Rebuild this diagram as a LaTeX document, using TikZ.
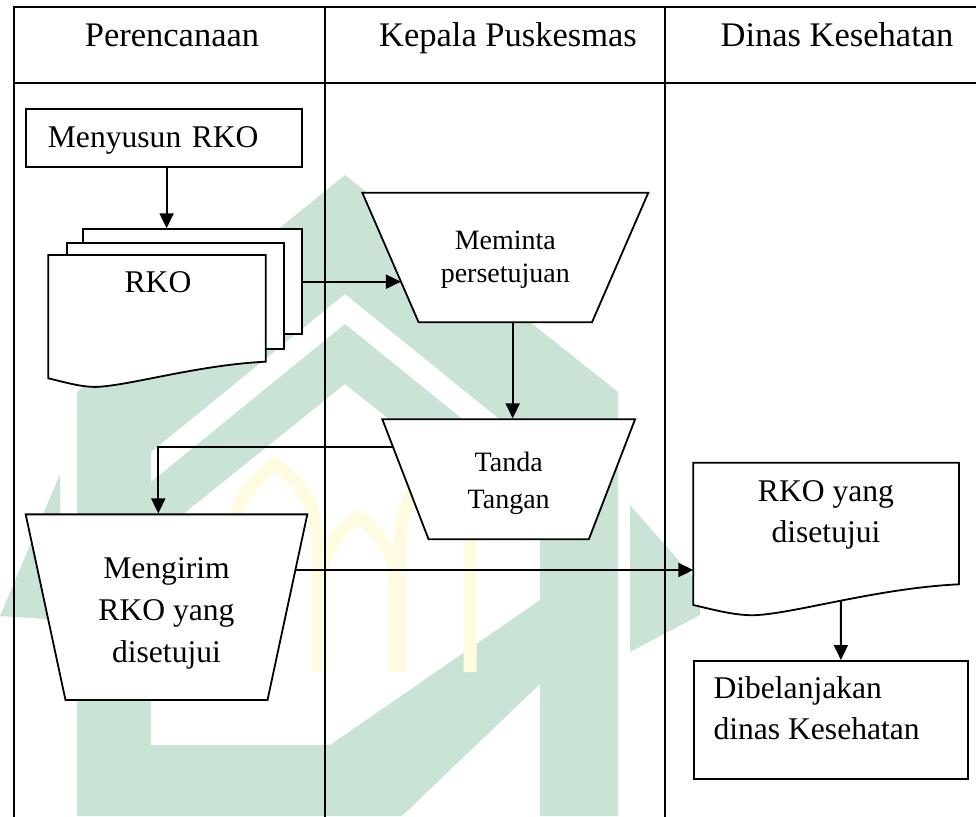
\documentclass[tikz,border=0pt]{standalone}
\usepackage{fontspec}
\setmainfont{Liberation Serif}
\usetikzlibrary{arrows.meta,shapes.geometric,intersections,calc}
\definecolor{wmgreen}{RGB}{201,228,212}
\definecolor{wmgold}{RGB}{255,251,224}
\begin{document}
\begin{tikzpicture}[x=1pt,y=-1pt,
  lane/.style={line width=2pt},
  shp/.style={draw, line width=1.8pt, fill=white},
  flow/.style={line width=2pt, -{Triangle[length=15pt,width=14pt]}},
  headtxt/.style={font=\fontsize{34.5}{41.7}\selectfont},
  bigtxt/.style={font=\fontsize{31.6}{41.7}\selectfont},
  smalltxt/.style={font=\fontsize{28}{33.4}\selectfont},
  manualop/.style={shp, trapezium, shape border rotate=180,
    trapezium stretches=true, inner sep=1pt},
  wmpart/.style={fill=wmgreen, draw=none},
  wmarch/.style={draw=wmgold, line width=13pt},
]
\useasboundingbox (0,0) rectangle (976,816);

% faint emblem in the background
\begin{scope}
\clip (0,0) rectangle (976,816);
\fill[wmpart] (77,816) -- (77,392) -- (345,175) -- (618,392) -- (618,816)
  -- (540,816) -- (540,452) -- (345,294) -- (151,452) -- (151,816) -- cycle;
\fill[wmpart] (151,482) -- (345,324) -- (540,482) -- (540,540)
  -- (345,384) -- (151,540) -- cycle;
\fill[wmpart] (151,745) -- (330,745) -- (540,600) -- (540,684)
  -- (402,816) -- (151,816) -- cycle;
\fill[wmpart] (60,474) -- (62,620) -- (0,616) -- cycle;
\fill[wmpart] (630,505) -- (700,585) -- (700,615) -- (630,652) -- cycle;
\draw[wmarch] (232,672) -- (232,545) .. controls (232,500) and (255,480)
  .. (275,464) .. controls (295,480) and (318,500) .. (318,545) -- (318,672);
\draw[wmarch] (322,672) -- (322,580) .. controls (322,550) and (340,530)
  .. (358,517) .. controls (376,530) and (395,550) .. (395,580) -- (395,672);
\draw[wmarch] (400,672) -- (400,545) .. controls (400,502) and (418,482)
  .. (435,466) .. controls (452,482) and (470,502) .. (470,545) -- (470,672);
\end{scope}

% swimlane frame
\begin{scope}
\clip (0,0) rectangle (976,816);
\draw[lane] (14,830) -- (14,7.5) -- (990,7.5);
\draw[lane] (14,83) -- (990,83);
\draw[lane] (325,7.5) -- (325,830);
\draw[lane] (665,7.5) -- (665,830);
\end{scope}

% lane titles
\node[headtxt, anchor=base] (h1) at (172,46) {Perencanaan};
\node[headtxt, anchor=base] (h2) at (508,46) {Kepala Puskesmas};
\node[headtxt, anchor=base] (h3) at (837,46) {Dinas Kesehatan};

% Perencanaan
\node[shp, bigtxt, anchor=north west, minimum height=58pt, text width=232pt,
  text height=21.3pt, text depth=3pt,
  inner xsep=22pt, inner ysep=0pt, align=left] (mny) at (25,108) {Menyusun RKO};

\node[shp, anchor=north west, minimum width=218.7pt, minimum height=105pt,
  inner sep=0pt] (pg3) at (82,228.3) {};
\node[shp, anchor=north west, minimum width=217pt, minimum height=106pt,
  inner sep=0pt] (pg2) at (65.7,241.7) {};
\draw[shp, name path=rkoP] (48.3,255) -- (265.7,255) -- (265.7,361.7)
  .. controls (200.5,364.8) and (134.4,384.2) .. (100,386.7)
  .. controls (84,388) and (66,382.5) .. (48.3,378.3) -- cycle;
\node[bigtxt, anchor=base] (rko) at (158,292.7) {RKO};

\node[manualop, trapezium angle=78.85, minimum width=281.6pt,
  minimum height=185.7pt, name path=mgrP] (mgr) at (166.5,607.2) {};
\node[bigtxt, align=center, inner sep=0pt] (mgrt) at ([yshift=-6pt]mgr.center)
  {Mengirim\\RKO yang\\disetujui};

% Kepala Puskesmas
\node[manualop, trapezium angle=72, minimum width=286pt,
  minimum height=129.6pt, name path=memP] (mem) at (505.3,257.5) {};
\node[smalltxt, align=center, inner sep=0pt] (memt) at ([yshift=-2pt]mem.center)
  {Meminta\\persetujuan};

\node[manualop, trapezium angle=73.9, minimum width=252.7pt,
  minimum height=120pt, name path=tanP] (tan) at (508.7,479.3) {};
\node[font=\fontsize{28}{36.7}\selectfont, align=center, inner sep=0pt] (tant)
  at ([yshift=-4.3pt]tan.center) {Tanda\\Tangan};

% Dinas Kesehatan
\coordinate (accNW) at (693.3,462.7);
\draw[shp, name path=accP] (accNW) -- (959,462.7) -- (959,584.3)
  .. controls (880,588) and (800,612) .. (758.3,615)
  .. controls (738,616.5) and (715,610) .. (693.3,605) -- cycle;
\node[bigtxt, align=center, inner sep=0pt] (acc) at (826,514.75)
  {RKO yang\\disetujui};

\node[shp, anchor=north west, minimum width=274pt, minimum height=118pt,
  inner sep=0pt] (dib) at (693.3,660) {};
\node[bigtxt, align=left, anchor=west, inner sep=0pt] (dibt) at (713.3,708.3)
  {Dibelanjakan\\dinas Kesehatan};

% connectors
\draw[flow] ([xshift=2.7pt]mny.south) -- ([xshift=2.7pt]mny.south |- pg3.north);

\path[name path=r1] (pg3.east) -- ++(150,0);
\draw[flow, name intersections={of=r1 and memP}] (pg3.east) -- (intersection-1);

\draw[flow] ([xshift=7.4pt]mem.south) -- ([xshift=7.4pt]mem.south |- tan.north);

\path[name path=r2] (tan.north) ++(0,28.4) -- ++(-200,0);
\draw[flow, name intersections={of=r2 and tanP}] (intersection-1)
  -| ([xshift=-8.2pt]mgr.north);

\path[name path=r3] ([yshift=37.2pt]mgr.center) -- ++(200,0);
\draw[flow, name intersections={of=r3 and mgrP}] (intersection-1)
  -- (intersection-1 -| accNW);

\path[name path=r4] ([xshift=9.7pt]dib.north) -- ++(0,-80);
\draw[flow, name intersections={of=r4 and accP}] (intersection-1)
  -- ([xshift=9.7pt]dib.north);
\end{tikzpicture}
\end{document}
